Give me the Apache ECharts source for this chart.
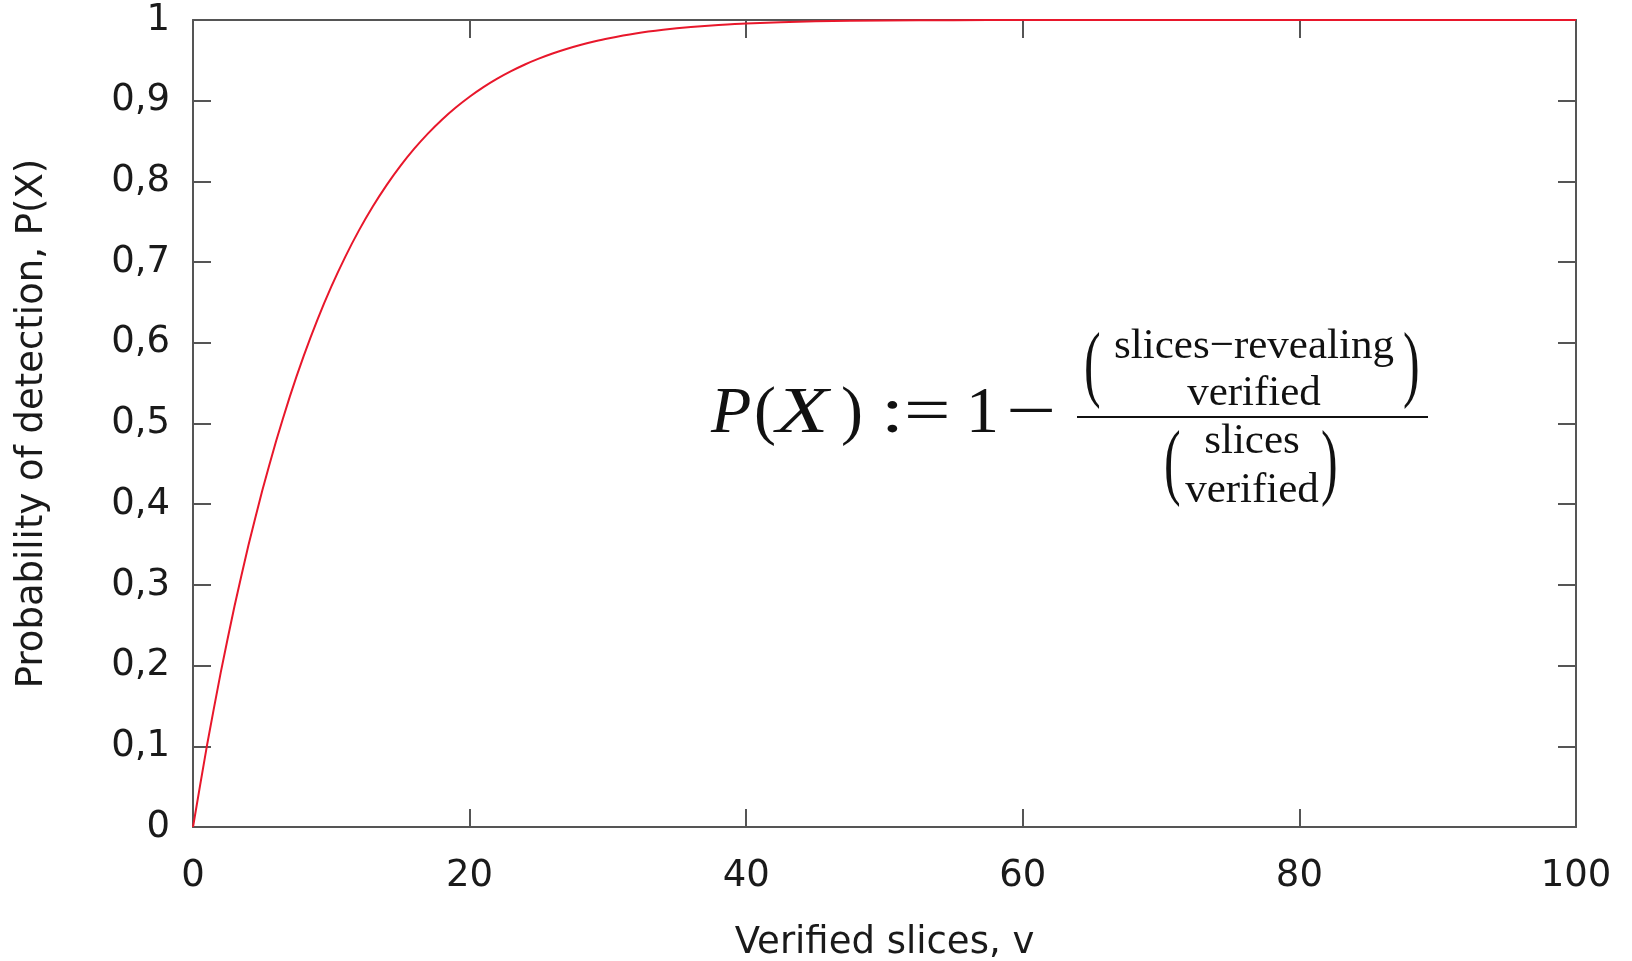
<!DOCTYPE html>
<html><head><meta charset="utf-8">
<script src="https://cdn.jsdelivr.net/npm/echarts@6/dist/echarts.min.js"></script>
<style>html,body{margin:0;padding:0;background:#fff}#c{width:1632px;height:961px}</style>
</head><body><div id="c"></div>
<script>
const verifiedSlices = [0,1,2,3,4,5,6,7,8,9,10,11,12,13,14,15,16,17,18,19,20,21,22,23,24,25,26,27,28,29,30,32,34,36,38,40,45,50,55,60,70,80,90,100];
const detectionProb = [0,0.1,0.191,0.2735,0.3484,0.4163,0.4777,0.5333,0.5834,0.6287,0.6695,0.7062,0.7393,0.7689,0.7954,0.8192,0.8405,0.8595,0.8764,0.8915,0.9049,0.9168,0.9273,0.9366,0.9449,0.9521,0.9585,0.9641,0.969,0.9733,0.9771,0.9832,0.9878,0.9913,0.9938,0.9957,0.9983,0.9994,0.9998,1,1,1,1,1];
const xTicks = [0,20,40,60,80,100];
const yTicks = [0,0.1,0.2,0.3,0.4,0.5,0.6,0.7,0.8,0.9,1];
const xName = 'Verified slices, v';
const yName = 'Probability of detection, P(X)';

const chart = echarts.init(document.getElementById('c'), null, {renderer:'canvas'});
const axisCol = '#555';
const txtCol = '#1a1a1a';
const sans = 'DejaVu Sans';
const serif = 'Liberation Serif';
const lineStyle = {color: axisCol, width: 2};
function t(text, x, y, size, opts) {
  opts = opts || {};
  const el = {type:'text', x:x, y:y, style:{text:text, font:(opts.italic?'italic ':'') + size + 'px "' + serif + '"', fill:'#111', align:opts.align||'left', verticalAlign:'middle'}};
  if (opts.sx) { el.scaleX = opts.sx; }
  if (opts.sy) { el.scaleY = opts.sy; }
  el.originX = 0; el.originY = 0;
  return el;
}
const option = {
  animation:false,
  backgroundColor:'#fff',
  grid:{left:193, right:56, top:20, bottom:134, outerBoundsMode:'none', containLabel:false},
  xAxis:[{
    type:'value', min:0, max:100, interval:20,
    name:xName, nameLocation:'middle', nameGap:98,
    nameTextStyle:{fontFamily:sans, fontSize:37, color:txtCol},
    axisLine:{show:true, onZero:false, lineStyle:lineStyle},
    axisTick:{show:true, inside:true, length:18, lineStyle:lineStyle},
    axisLabel:{fontFamily:sans, fontSize:37, color:txtCol, margin:31},
    splitLine:{show:false}
  },{
    type:'value', min:0, max:100, interval:20, position:'top',
    axisLine:{show:true, onZero:false, lineStyle:lineStyle},
    axisTick:{show:true, inside:true, length:18, lineStyle:lineStyle},
    axisLabel:{show:false}, splitLine:{show:false}
  }],
  yAxis:[{
    type:'value', min:0, max:1, interval:0.1,
    name:yName, nameLocation:'middle', nameGap:142,
    nameTextStyle:{fontFamily:sans, fontSize:37, color:txtCol},
    axisLine:{show:true, onZero:false, lineStyle:lineStyle},
    axisTick:{show:true, inside:true, length:18, lineStyle:lineStyle},
    axisLabel:{fontFamily:sans, fontSize:37, color:txtCol, margin:23,
      formatter: v => String(Math.round(v*10)/10).replace('.', ',')},
    splitLine:{show:false}
  },{
    type:'value', min:0, max:1, interval:0.1, position:'right',
    axisLine:{show:true, onZero:false, lineStyle:lineStyle},
    axisTick:{show:true, inside:true, length:18, lineStyle:lineStyle},
    axisLabel:{show:false}, splitLine:{show:false}
  }],
  series:[{
    type:'line', xAxisIndex:0, yAxisIndex:0,
    data: verifiedSlices.map((v,i)=>[v, detectionProb[i]]),
    showSymbol:false, smooth:0.2,
    lineStyle:{color:'#e8172b', width:2}
  }],
  graphic:[
    t('P', 711, 415, 66, {italic:true}),
    t('(', 754, 415, 66),
    t('X', 776, 415, 66, {italic:true, sx:1.3}),
    t(')', 841, 415, 66),
    t(':=', 881, 415, 66, {sx:1.25}),
    t('1', 966, 415, 66),
    t('\u2212', 1006, 415, 66, {sx:1.35}),
    t('slices\u2212revealing', 1254, 347, 43, {align:'center'}),
    t('verified', 1254, 394, 43, {align:'center'}),
    {type:'line', shape:{x1:1077, y1:417, x2:1428, y2:417}, style:{stroke:'#111', lineWidth:2}},
    t('(', 1084, 369, 50, {sy:1.7}),
    t(')', 1403, 369, 50, {sy:1.7}),
    t('slices', 1252, 442, 43, {align:'center'}),
    t('verified', 1252, 491, 43, {align:'center'}),
    t('(', 1164, 467, 50, {sy:1.7}),
    t(')', 1321, 467, 50, {sy:1.7})
  ]
};
chart.setOption(option);
</script></body></html>
